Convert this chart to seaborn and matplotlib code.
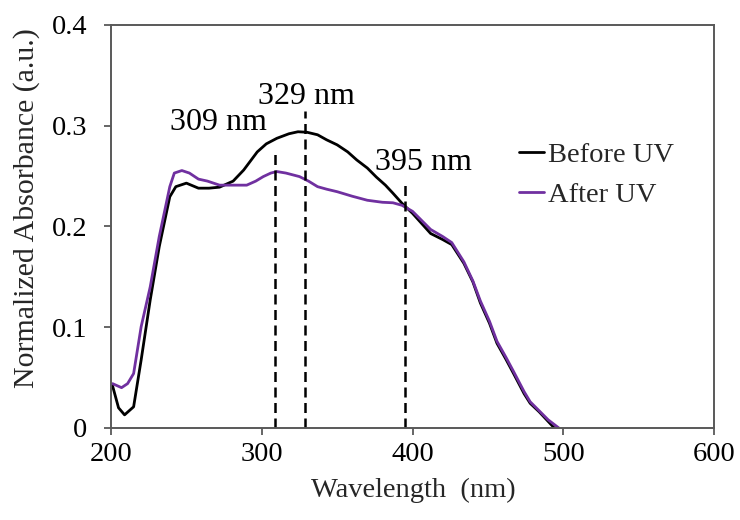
import matplotlib
matplotlib.use("Agg")
import matplotlib.pyplot as plt
import pandas as pd
import seaborn as sns
from matplotlib.lines import Line2D

# Absorbance spectra before and after UV exposure
before_wl = [201, 205, 209, 215, 220, 226, 232, 239, 243, 250, 258, 265, 272, 281, 288,
             292, 297, 303, 310, 318, 324, 330, 337, 343, 350, 357, 363, 370, 376, 382,
             387, 393, 400, 406, 412, 420, 426, 434, 440, 445, 451, 456, 462, 467, 474,
             478, 484, 489, 494]
before_abs = [0.042, 0.020, 0.013, 0.021, 0.0675, 0.127, 0.180, 0.2295, 0.2395, 0.243, 0.238,
              0.238, 0.239, 0.245, 0.256, 0.264, 0.274, 0.282, 0.2875, 0.292, 0.294, 0.2935,
              0.291, 0.286, 0.281, 0.274, 0.266, 0.258, 0.249, 0.241, 0.233, 0.223, 0.213,
              0.203, 0.193, 0.187, 0.182, 0.1635, 0.145, 0.124, 0.104, 0.084, 0.068, 0.054,
              0.034, 0.0245, 0.016, 0.008, 0.0]

after_wl = [201, 207, 211, 215, 220, 226, 232, 239, 242, 247, 252, 258, 264, 272, 280,
            290, 296, 301, 306, 310, 316, 325, 331, 337, 343, 350, 360, 370, 380, 387,
            393, 400, 406, 412, 420, 426, 434, 440, 445, 451, 456, 462, 467, 474, 478,
            484, 490, 497]
after_abs = [0.044, 0.040, 0.044, 0.054, 0.1005, 0.140, 0.190, 0.2395, 0.253, 0.2555, 0.253,
             0.247, 0.245, 0.241, 0.241, 0.241, 0.245, 0.2495, 0.253, 0.2545, 0.253, 0.2495,
             0.245, 0.2395, 0.237, 0.2345, 0.230, 0.226, 0.224, 0.2235, 0.221, 0.215, 0.206,
             0.197, 0.190, 0.184, 0.165, 0.146, 0.126, 0.106, 0.086, 0.070, 0.056, 0.036,
             0.026, 0.017, 0.008, 0.0]

series_names = ["Before UV", "After UV"]
series_colors = ["#000000", "#7030A0"]

# Marked peak wavelengths and the height each guide line reaches
peak_wl = [309, 329, 395]
peak_top = [0.274, 0.3146, 0.244]
peak_labels = ["309 nm", "329 nm", "395 nm"]
label_pos = [(271, 0.2958), (329.3, 0.3216), (407.3, 0.256)]

x_ticks = [200, 300, 400, 500, 600]
y_ticks = [0, 0.1, 0.2, 0.3, 0.4]
y_tick_labels = ["0", "0.1", "0.2", "0.3", "0.4"]

df = pd.concat([
    pd.DataFrame({"wl": before_wl, "abs": before_abs, "series": series_names[0]}),
    pd.DataFrame({"wl": after_wl, "abs": after_abs, "series": series_names[1]}),
], ignore_index=True)

sns.set_theme(style="white")
plt.rcParams["font.family"] = ["Liberation Serif", "DejaVu Serif"]

tick_fs = 20.5
note_fs = 23
xlabel_fs = 20.5
ylabel_fs = 21.5
legend_fs = 20.5
frame_col = "#595959"

fig = plt.figure(figsize=(7.4, 5.2), dpi=100)
ax = fig.add_axes([0.150, 0.177, 0.815, 0.775])

sns.lineplot(data=df, x="wl", y="abs", hue="series", palette=series_colors,
             hue_order=series_names, sort=False, estimator=None, linewidth=2.0,
             legend=False, ax=ax)

ax.vlines(peak_wl, 0, peak_top, colors="black", linestyles=(0, (4, 2.2)), linewidth=1.8)
for txt, (tx, ty) in zip(peak_labels, label_pos):
    ax.text(tx, ty, txt, ha="center", va="baseline", fontsize=note_fs, color="black")

ax.set_xlim(200, 600)
ax.set_ylim(0, 0.4)
ax.set_xticks(x_ticks)
ax.set_xticklabels([str(v) for v in x_ticks])
ax.set_yticks(y_ticks)
ax.set_yticklabels(y_tick_labels)
ax.tick_params(axis="both", direction="out", length=5, width=1.3, color=frame_col,
               labelsize=tick_fs, labelcolor="black", bottom=True, left=True)
ax.tick_params(axis="y", pad=12)
ax.tick_params(axis="x", pad=5)
for sp in ax.spines.values():
    sp.set_visible(True)
    sp.set_color(frame_col)
    sp.set_linewidth(1.4)

ax.set_xlabel("Wavelength  (nm)", fontsize=xlabel_fs, va="top")
ax.xaxis.set_label_coords(0.502, -0.125)
ax.set_ylabel("Normalized Absorbance (a.u.)", fontsize=ylabel_fs)
ax.yaxis.set_label_coords(-0.118, 0.546)

handles = [Line2D([0], [0], color=c, lw=2.0) for c in series_colors]
ax.legend(handles, series_names, loc="upper left", bbox_to_anchor=(0.677, 0.71),
          frameon=False, fontsize=legend_fs, handlelength=0.85, handletextpad=0.15,
          labelspacing=0.5, borderaxespad=0, borderpad=0)

fig.savefig("out.png", dpi=100)
